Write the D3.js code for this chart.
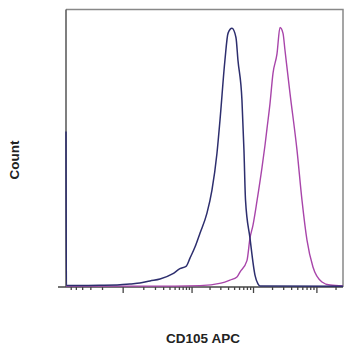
<!DOCTYPE html>
<html>
<head>
<meta charset="utf-8">
<script src="https://cdn.jsdelivr.net/npm/d3@7"></script>
<style>
  html, body { margin: 0; padding: 0; background: #fff; }
  svg text { font-family: 'Liberation Sans', Arial, sans-serif; font-weight: bold; fill: #222; }
</style>
</head>
<body>
<div id="chart"></div>
<script>
// Fluorescence (CD105 APC) vs count, % of max
const isoX = [-610, -600, -332, -115, -9, 27, 78, 152, 258, 466, 626, 800, 940, 1144, 1389, 1814,
  2192, 2646, 2962, 3560, 3990, 4617, 5350, 5760, 6670, 7180, 7600, 8950, 10740, 11980, 12890, 262144];
const isoY = [56, 0.5, 0.5, 0.6, 0.8, 1.1, 1.4, 2.2, 2.9, 4.8, 6.6, 7.4, 10.4, 14.4, 19.4, 26.6,
  34.9, 48.2, 60.1, 81.7, 91.4, 93.2, 89.9, 81.7, 67.3, 49.3, 31.3, 17.6, 4.3, 1.1, 0.4, 0.3];

const cdX = [-610, 152, 1389, 3070, 4290, 5550, 6200, 8010, 8950, 9990, 11560, 13870, 15460, 16630,
  18550, 20700, 23940, 26700, 29800, 32010, 38410, 49500, 59300, 71100, 88300, 122400, 163500, 262144];
const cdY = [0.3, 0.3, 0.5, 1.4, 2.5, 3.6, 5.4, 9.5, 17.6, 22.3, 31, 43, 51, 57,
  66, 77, 84, 93.5, 91.4, 85.3, 69.8, 49.3, 31.3, 16.9, 7.2, 1.8, 0.7, 0.4];

const majorTicks = [0, 1e3, 1e4, 1e5];
const minorTicks = [-500, -400, -300, -200, -100,
  100, 200, 300, 400, 500, 600, 700, 800, 900,
  2e3, 3e3, 4e3, 5e3, 6e3, 7e3, 8e3, 9e3,
  2e4, 3e4, 4e4, 5e4, 6e4, 7e4, 8e4, 9e4, 2e5];

const W = 350, H = 350;
const plot = { left: 66, right: 343, top: 9.5, bottom: 287 };

const svg = d3.select('#chart').append('svg')
  .attr('width', W).attr('height', H);

const x = d3.scaleSymlog().constant(90)
  .domain([-610, 262144])
  .range([plot.left, plot.right]);
const y = d3.scaleLinear().domain([0, 100]).range([plot.bottom, plot.top]);

// frame (top/right lighter)
svg.append('path')
  .attr('d', `M${plot.left},${plot.top}H${plot.right}V${plot.bottom}`)
  .attr('fill', 'none').attr('stroke', '#888').attr('stroke-width', 1.5);
svg.append('line')
  .attr('x1', plot.left).attr('x2', plot.left)
  .attr('y1', plot.top).attr('y2', plot.bottom)
  .attr('stroke', '#555').attr('stroke-width', 1.5);

// x axis with biex-style ticks
const gx = svg.append('g').attr('transform', `translate(0,${plot.bottom})`);
gx.call(d3.axisBottom(x).tickValues(majorTicks).tickSize(6).tickFormat(''));
gx.append('g').call(d3.axisBottom(x).tickValues(minorTicks).tickSize(3).tickFormat(''))
  .select('.domain').remove();
gx.selectAll('.domain').attr('d', `M58,0H${plot.right}`);
gx.selectAll('path, line').attr('stroke', '#444').attr('stroke-width', 1.3);

const line = d3.line().x(d => x(d[0])).y(d => y(d[1])).curve(d3.curveMonotoneX);

svg.append('path')
  .datum(cdX.map((v, i) => [v, cdY[i]]))
  .attr('d', line)
  .attr('fill', 'none').attr('stroke', '#a845aa').attr('stroke-width', 1.4);

svg.append('path')
  .datum(isoX.map((v, i) => [v, isoY[i]]))
  .attr('d', line)
  .attr('fill', 'none').attr('stroke', '#2d2e6e').attr('stroke-width', 1.5);

// axis titles
svg.append('text')
  .attr('x', 203).attr('y', 343)
  .attr('text-anchor', 'middle')
  .attr('font-size', 13.5)
  .text('CD105 APC');

svg.append('text')
  .attr('transform', 'translate(19,160) rotate(-90)')
  .attr('text-anchor', 'middle')
  .attr('font-size', 13.5)
  .text('Count');
</script>
</body>
</html>
